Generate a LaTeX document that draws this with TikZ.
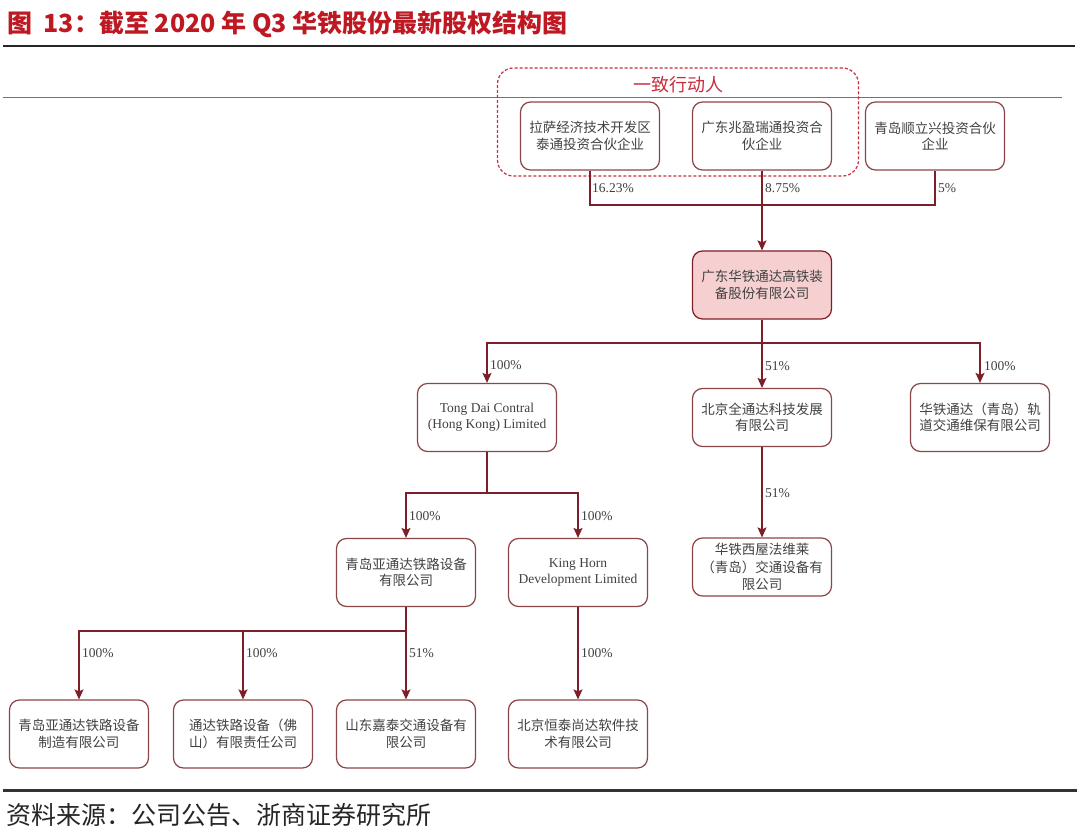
\documentclass[tikz,border=0pt]{standalone}
\usepackage{fontspec}
\setmainfont{Liberation Serif}
\newfontfamily\cjk{Noto Sans CJK SC}
\usetikzlibrary{arrows.meta}
\definecolor{lnred}{RGB}{125,30,40}
\definecolor{bxred}{RGB}{140,70,72}
\definecolor{ttlred}{RGB}{190,25,35}
\definecolor{dashred}{RGB}{200,45,60}
\definecolor{pinkfill}{RGB}{246,208,208}
\definecolor{txtgray}{RGB}{65,65,65}
\begin{document}
\begin{tikzpicture}[x=1pt,y=-1pt,
  box/.style={draw=bxred,line width=1.2pt,rounded corners=10pt,minimum width=139pt,minimum height=68pt,
    align=center,font=\cjk\fontsize{13.5}{16.5}\selectfont,text=txtgray,inner sep=2pt},
  ebox/.style={box,font=\fontsize{13.5}{16.5}\selectfont},
  conn/.style={draw=lnred,line width=1.3pt},
  arr/.style={conn,-{Stealth[length=10pt,width=9pt,inset=2pt]}},
  pct/.style={anchor=west,font=\fontsize{13.5}{13.5}\selectfont,text=txtgray,inner sep=0pt}
]
\useasboundingbox[fill=white] (0,0) rectangle (1080,837);

% header and footer rules
\node[anchor=west,inner sep=0pt,font=\cjk\bfseries\fontsize{25}{25}\selectfont,text=ttlred] (title) at (7,24)
  {图~~13：截至 2020 年 Q3 华铁股份最新股权结构图};
\draw[line width=2pt,black!85] (3,46.5) -- (1075,46.5);
\draw[line width=1.3pt,black!55] (3,97.7) -- (1062,97.7);
\draw[line width=2.5pt,black!80] (3,790.7) -- (1077,790.7);
\node[anchor=west,inner sep=0pt,font=\cjk\fontsize{25}{25}\selectfont,text=black!85] (src) at (6,815)
  {资料来源：公司公告、浙商证券研究所};

% group box
\node[draw=dashred,line width=1.2pt,dash pattern=on 3pt off 2pt,rounded corners=16pt,
  minimum width=361pt,minimum height=108pt] (grp) at (678,122) {};
\node[font=\cjk\fontsize{18}{18}\selectfont,text=dashred,inner sep=0pt] (grplbl) at (678,85) {一致行动人};

% shareholders
\node[box] (A) at (590,136) {拉萨经济技术开发区\\泰通投资合伙企业};
\node[box] (B) at (762,136) {广东兆盈瑞通投资合\\伙企业};
\node[box] (C) at (935,136) {青岛顺立兴投资合伙\\企业};

\node[box,fill=pinkfill,draw=lnred] (M) at (762,285) {广东华铁通达高铁装\\备股份有限公司};

% level 2
\node[ebox] (TD) at (487,417.5) {Tong Dai Contral\\(Hong Kong) Limited};
\node[box,minimum height=58pt] (BJ) at (762,417.5) {北京全通达科技发展\\有限公司};
\node[box] (HT) at (980,417.5) {华铁通达（青岛）轨\\道交通维保有限公司};

% level 3
\node[box] (QD) at (406,572.5) {青岛亚通达铁路设备\\有限公司};
\node[ebox] (KH) at (578,572.5) {King Horn\\Development Limited};
\node[box,minimum height=58pt,font=\cjk\fontsize{13.5}{17.5}\selectfont] (XW) at (762,567) {华铁西屋法维莱\\（青岛）交通设备有\\限公司};

% level 4
\node[box] (R1) at (79,734) {青岛亚通达铁路设备\\制造有限公司};
\node[box] (R2) at (243,734) {通达铁路设备（佛\\山）有限责任公司};
\node[box] (R3) at (406,734) {山东嘉泰交通设备有\\限公司};
\node[box] (R4) at (578,734) {北京恒泰尚达软件技\\术有限公司};

% connectors: shareholders -> main
\coordinate (j0) at (762,205);
\draw[conn] (A.south) |- (j0) -| (C.south);
\draw[arr] (B.south) -- (M.north);
\node[pct] (p1) at (592,188) {16.23\%};
\node[pct] (p2) at (765,188) {8.75\%};
\node[pct] (p3) at (938,188) {5\%};

% main -> level 2
\coordinate (j1) at (762,343);
\draw[conn] (M.south) -- (j1);
\draw[arr] (j1) -| (TD.north);
\draw[arr] (j1) -- (BJ.north);
\draw[arr] (j1) -| (HT.north);
\node[pct] (p4) at (490,365) {100\%};
\node[pct] (p5) at (765,366) {51\%};
\node[pct] (p6) at (984,366) {100\%};

% TD -> level 3
\coordinate (j2) at (487,493);
\draw[conn] (TD.south) -- (j2);
\draw[arr] (j2) -| (QD.north);
\draw[arr] (j2) -| (KH.north);
\node[pct] (p7) at (409,516) {100\%};
\node[pct] (p8) at (581,516) {100\%};

% BJ -> XW
\draw[arr] (BJ.south) -- (XW.north);
\node[pct] (p9) at (765,493) {51\%};

% QD -> level 4
\coordinate (j3) at (406,631);
\draw[conn] (QD.south) -- (j3);
\draw[arr] (j3) -| (R1.north);
\draw[arr] (j3) -| (R2.north);
\draw[arr] (j3) -- (R3.north);
\draw[arr] (KH.south) -- (R4.north);
\node[pct] (p10) at (82,653) {100\%};
\node[pct] (p11) at (246,653) {100\%};
\node[pct] (p12) at (409,653) {51\%};
\node[pct] (p13) at (581,653) {100\%};
\end{tikzpicture}
\end{document}
